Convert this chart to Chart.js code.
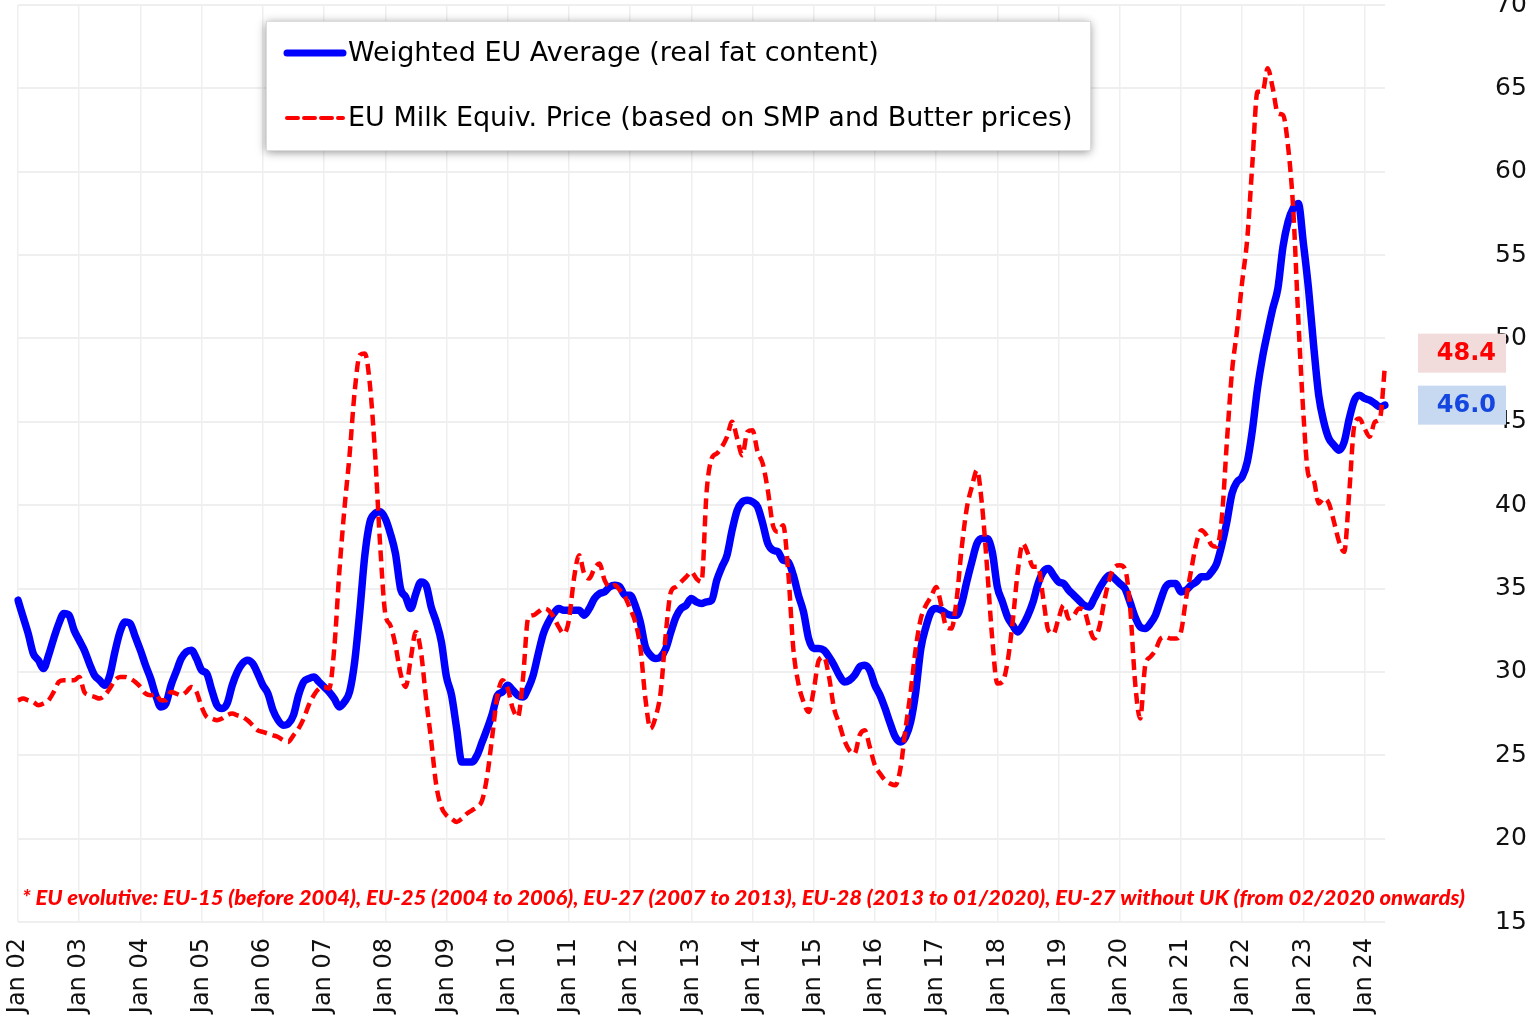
<!DOCTYPE html>
<html>
<head>
<meta charset="utf-8">
<title>EU milk price</title>
<script src="https://cdn.jsdelivr.net/npm/chart.js@4.4.1/dist/chart.umd.min.js"></script>
<style>
html, body { margin: 0; padding: 0; background: #fff; }
#wrap { position: relative; width: 1540px; height: 1022px; overflow: hidden; }
</style>
</head>
<body>
<div id="wrap"><canvas id="milkChart" width="1540" height="1022"></canvas></div>
<script>
// monthly prices, Jan 2002 .. May 2024 (EUR / 100 kg)
const blueEU = [
  34.3, 33.3, 32.3, 31.1, 30.7, 30.2, 31.0, 32.0, 32.9, 33.5, 33.4, 32.5, // 2002
  31.9, 31.3, 30.5, 29.8, 29.5, 29.2, 29.8, 31.2, 32.4, 33.0, 32.9, 32.1, // 2003
  31.3, 30.4, 29.6, 28.6, 27.9, 28.1, 29.2, 30.0, 30.8, 31.2, 31.3, 30.8, // 2004
  30.1, 29.9, 28.9, 28.0, 27.8, 28.1, 29.2, 30.0, 30.5, 30.7, 30.5, 29.9, // 2005
  29.2, 28.7, 27.7, 27.1, 26.8, 26.9, 27.4, 28.6, 29.4, 29.6, 29.7, 29.4, // 2006
  29.1, 28.8, 28.4, 27.9, 28.2, 28.8, 30.6, 33.6, 37.0, 39.0, 39.5, 39.6, // 2007
  39.2, 38.3, 37.1, 35.0, 34.5, 33.8, 34.7, 35.4, 35.2, 33.9, 33.0, 31.8, // 2008
  29.7, 28.6, 26.6, 24.6, 24.6, 24.6, 25.0, 25.8, 26.6, 27.5, 28.6, 28.8, // 2009
  29.2, 28.9, 28.6, 28.5, 29.0, 29.8, 31.1, 32.3, 33.0, 33.5, 33.8, 33.7, // 2010
  33.7, 33.7, 33.7, 33.4, 33.8, 34.4, 34.7, 34.8, 35.1, 35.2, 35.1, 34.6, // 2011
  34.6, 34.0, 33.0, 31.5, 31.0, 30.8, 30.9, 31.4, 32.4, 33.3, 33.8, 34.0, // 2012
  34.4, 34.2, 34.1, 34.2, 34.3, 35.5, 36.3, 37.0, 38.5, 39.7, 40.2, 40.3, // 2013
  40.2, 39.9, 38.9, 37.7, 37.3, 37.2, 36.7, 36.6, 35.8, 34.6, 33.6, 32.0, // 2014
  31.4, 31.4, 31.3, 30.9, 30.4, 29.8, 29.4, 29.5, 29.8, 30.3, 30.4, 30.1, // 2015
  29.2, 28.6, 27.8, 26.9, 26.1, 25.8, 26.1, 27.0, 28.8, 31.4, 32.7, 33.6, // 2016
  33.8, 33.7, 33.5, 33.4, 33.4, 34.1, 35.4, 36.6, 37.7, 38.0, 38.0, 37.2, // 2017
  35.1, 34.2, 33.3, 32.8, 32.4, 32.8, 33.4, 34.2, 35.3, 36.0, 36.2, 35.8, // 2018
  35.4, 35.3, 34.9, 34.6, 34.3, 34.0, 33.9, 34.4, 35.0, 35.5, 35.8, 35.6, // 2019
  35.3, 35.0, 34.2, 33.3, 32.7, 32.6, 32.9, 33.4, 34.3, 35.1, 35.3, 35.3, // 2020
  34.8, 34.9, 35.2, 35.4, 35.7, 35.7, 36.0, 36.5, 37.6, 39.0, 40.7, 41.4, // 2021
  41.7, 42.6, 44.5, 47.0, 48.9, 50.4, 51.8, 53.0, 55.5, 57.0, 57.8, 58.1, // 2022
  55.7, 53.0, 49.6, 46.6, 45.0, 44.0, 43.6, 43.3, 43.8, 45.2, 46.3, 46.6, // 2023
  46.4, 46.3, 46.1, 45.9, 46.0                                            // 2024
];

const redEquiv = [
  28.3, 28.4, 28.3, 28.2, 28.0, 28.1, 28.3, 28.8, 29.4, 29.5, 29.5, 29.5, // 2002
  29.7, 28.8, 28.6, 28.5, 28.4, 28.6, 29.0, 29.5, 29.7, 29.7, 29.6, 29.4, // 2003
  29.1, 28.7, 28.6, 28.7, 28.3, 28.3, 28.8, 28.7, 28.6, 28.8, 29.1, 28.8, // 2004
  27.9, 27.3, 27.2, 27.1, 27.2, 27.4, 27.5, 27.4, 27.3, 27.1, 26.8, 26.5, // 2005
  26.4, 26.3, 26.2, 26.1, 25.9, 25.8, 26.2, 26.6, 27.2, 28.0, 28.6, 29.0, // 2006
  29.1, 29.0, 31.4, 36.0, 39.8, 43.0, 46.8, 49.0, 49.1, 47.2, 43.1, 37.6, // 2007
  33.5, 32.8, 31.6, 29.9, 29.1, 30.8, 32.4, 31.2, 28.4, 25.9, 23.2, 21.9, // 2008
  21.4, 21.2, 21.0, 21.2, 21.5, 21.7, 21.9, 22.3, 23.8, 26.2, 28.6, 29.5, // 2009
  29.0, 27.8, 27.3, 29.6, 33.2, 33.4, 33.6, 33.8, 33.7, 33.3, 32.7, 32.3, // 2010
  33.1, 35.6, 37.0, 35.9, 35.6, 36.2, 36.5, 35.5, 35.1, 35.2, 34.9, 34.5, // 2011
  33.8, 33.0, 31.5, 28.4, 26.6, 27.3, 28.8, 32.3, 34.8, 35.1, 35.4, 35.7, // 2012
  36.0, 35.6, 35.4, 40.8, 42.8, 43.1, 43.5, 44.1, 45.0, 44.0, 43.0, 44.4, // 2013
  44.5, 43.2, 42.5, 40.9, 38.8, 38.4, 38.8, 36.0, 31.4, 29.3, 28.2, 27.6, // 2014
  28.9, 30.7, 30.9, 29.7, 27.8, 26.9, 25.9, 25.3, 25.1, 26.2, 26.5, 25.5, // 2015
  24.4, 23.9, 23.5, 23.3, 23.2, 24.2, 26.6, 28.8, 31.4, 33.2, 34.0, 34.5, // 2016
  35.1, 34.0, 32.7, 32.6, 34.3, 37.4, 39.8, 41.1, 42.1, 40.0, 36.2, 32.0, // 2017
  29.3, 29.4, 30.6, 33.0, 36.0, 37.7, 37.1, 36.3, 36.3, 34.4, 32.5, 32.3, // 2018
  33.2, 34.0, 33.2, 33.4, 33.8, 33.7, 32.7, 32.0, 32.7, 34.3, 35.6, 36.3, // 2019
  36.4, 36.2, 34.0, 29.4, 27.2, 30.4, 30.9, 31.3, 32.0, 32.1, 32.0, 32.0, // 2020
  32.4, 34.4, 36.1, 37.7, 38.5, 38.2, 37.6, 37.5, 39.2, 43.8, 48.0, 50.5, // 2021
  53.4, 56.0, 60.5, 64.8, 64.8, 66.2, 65.0, 63.5, 63.4, 61.5, 57.8, 51.2, // 2022
  45.5, 41.8, 41.5, 40.1, 40.4, 40.1, 39.0, 37.8, 37.2, 40.8, 44.8, 45.2, // 2023
  44.6, 44.1, 45.0, 45.2, 48.4                                            // 2024
];

const MONTH_NAMES = ['Jan', 'Feb', 'Mar', 'Apr', 'May', 'Jun', 'Jul', 'Aug', 'Sep', 'Oct', 'Nov', 'Dec'];
const FIRST_YEAR = 2002;
const months = blueEU.map((_, i) =>
  MONTH_NAMES[i % 12] + ' ' + String((FIRST_YEAR + Math.floor(i / 12)) % 100).padStart(2, '0'));

const yTicks = [15, 20, 25, 30, 35, 40, 45, 50, 55, 60, 65, 70];

const SERIES_NAMES = ['Weighted EU Average (real fat content)',
                      'EU Milk Equiv. Price (based on SMP and Butter prices)'];
const NOTE = '* EU evolutive: EU-15 (before 2004), EU-25 (2004 to 2006), EU-27 (2007 to 2013), ' +
             'EU-28 (2013 to 01/2020), EU-27 without UK (from 02/2020 onwards)';

const FONT = 'DejaVu Sans';
const GRID = '#efefef';

// legend box, footnote and the last-value tags on the right
const overlay = {
  id: 'overlay',
  afterDraw(chart) {
    const ctx = chart.ctx;
    const sets = chart.data.datasets;

    // footnote
    ctx.save();
    ctx.font = 'italic 900 21px Lato';
    ctx.fillStyle = '#ff0000';
    ctx.textBaseline = 'alphabetic';
    const nw = ctx.measureText(NOTE).width;
    ctx.translate(22, 905);
    ctx.scale(1443 / nw, 1);
    ctx.fillText(NOTE, 0, 0);
    ctx.restore();

    // legend
    ctx.save();
    ctx.shadowColor = 'rgba(0,0,0,0.45)';
    ctx.shadowBlur = 9;
    ctx.shadowOffsetY = 2;
    ctx.fillStyle = '#fff';
    ctx.fillRect(266, 21, 824, 129);
    ctx.restore();
    ctx.save();
    ctx.strokeStyle = '#dcdcdc';
    ctx.lineWidth = 1;
    ctx.strokeRect(266.5, 21.5, 824, 129);
    ctx.font = '27px ' + FONT;
    ctx.fillStyle = '#000';
    ctx.textBaseline = 'middle';
    sets.forEach((ds, i) => {
      const ly = 53 + i * 65;
      ctx.beginPath();
      ctx.strokeStyle = ds.borderColor;
      ctx.lineWidth = i === 0 ? 7 : 4;
      ctx.lineCap = 'round';
      ctx.setLineDash(ds.borderDash || []);
      ctx.moveTo(287, ly);
      ctx.lineTo(343, ly);
      ctx.stroke();
      ctx.setLineDash([]);
      ctx.fillText(ds.label, 348, ly + 1);
    });
    ctx.restore();

    // last value tags
    const ys = chart.scales.y;
    const last = sets.map(ds => ds.data[ds.data.length - 1]);
    const blueY = ys.getPixelForValue(last[0]);
    let redY = ys.getPixelForValue(last[1]);
    if (redY > blueY - 52) redY = blueY - 52;
    const tags = [
      { v: last[0], y: blueY, bg: '#c6d9f1', fg: '#1546e0' },
      { v: last[1], y: redY, bg: '#f2dcdb', fg: '#ff0000' }
    ];
    ctx.save();
    ctx.font = 'bold 24px ' + FONT;
    ctx.textAlign = 'right';
    ctx.textBaseline = 'middle';
    tags.forEach(t => {
      ctx.fillStyle = t.bg;
      ctx.fillRect(1418, t.y - 19.5, 88, 39);
      ctx.fillStyle = t.fg;
      ctx.fillText(t.v.toFixed(1), 1496, t.y + 1);
    });
    ctx.restore();
  }
};

new Chart(document.getElementById('milkChart').getContext('2d'), {
  type: 'line',
  data: {
    labels: months,
    datasets: [{
      label: SERIES_NAMES[0],
      data: blueEU,
      borderColor: '#0000ff',
      borderWidth: 7.5,
      borderCapStyle: 'round',
      borderJoinStyle: 'round',
      pointRadius: 0,
      cubicInterpolationMode: 'monotone',
      order: 2
    }, {
      label: SERIES_NAMES[1],
      data: redEquiv,
      borderColor: '#ff0000',
      borderWidth: 4.5,
      borderDash: [11, 6],
      pointRadius: 0,
      cubicInterpolationMode: 'monotone',
      order: 1
    }]
  },
  options: {
    responsive: false,
    animation: false,
    layout: { padding: { left: 18, top: 5, right: 0, bottom: 0 } },
    plugins: {
      legend: { display: false },
      tooltip: { enabled: false }
    },
    scales: {
      x: {
        grid: {
          drawTicks: false,
          lineWidth: 1.5,
          color: c => (c.index % 12 === 0 ? GRID : 'rgba(0,0,0,0)')
        },
        border: { display: false },
        ticks: {
          autoSkip: false,
          minRotation: 90,
          maxRotation: 90,
          padding: 16,
          color: '#111',
          font: { family: FONT, size: 24 },
          callback: (v, i) => (i % 12 === 0 ? months[i] : '')
        },
        afterFit: s => { s.height = 100; s.paddingLeft = 0; s.paddingRight = 0; }
      },
      y: {
        position: 'right',
        min: yTicks[0],
        max: yTicks[yTicks.length - 1],
        grid: { drawTicks: false, color: GRID, lineWidth: 2 },
        border: { display: false },
        ticks: {
          stepSize: 5,
          padding: 110,
          color: '#111',
          font: { family: FONT, size: 25 }
        },
        afterFit: s => { s.width = 155; s.paddingTop = 0; s.paddingBottom = 0; }
      }
    }
  },
  plugins: [overlay]
});
</script>
</body>
</html>
